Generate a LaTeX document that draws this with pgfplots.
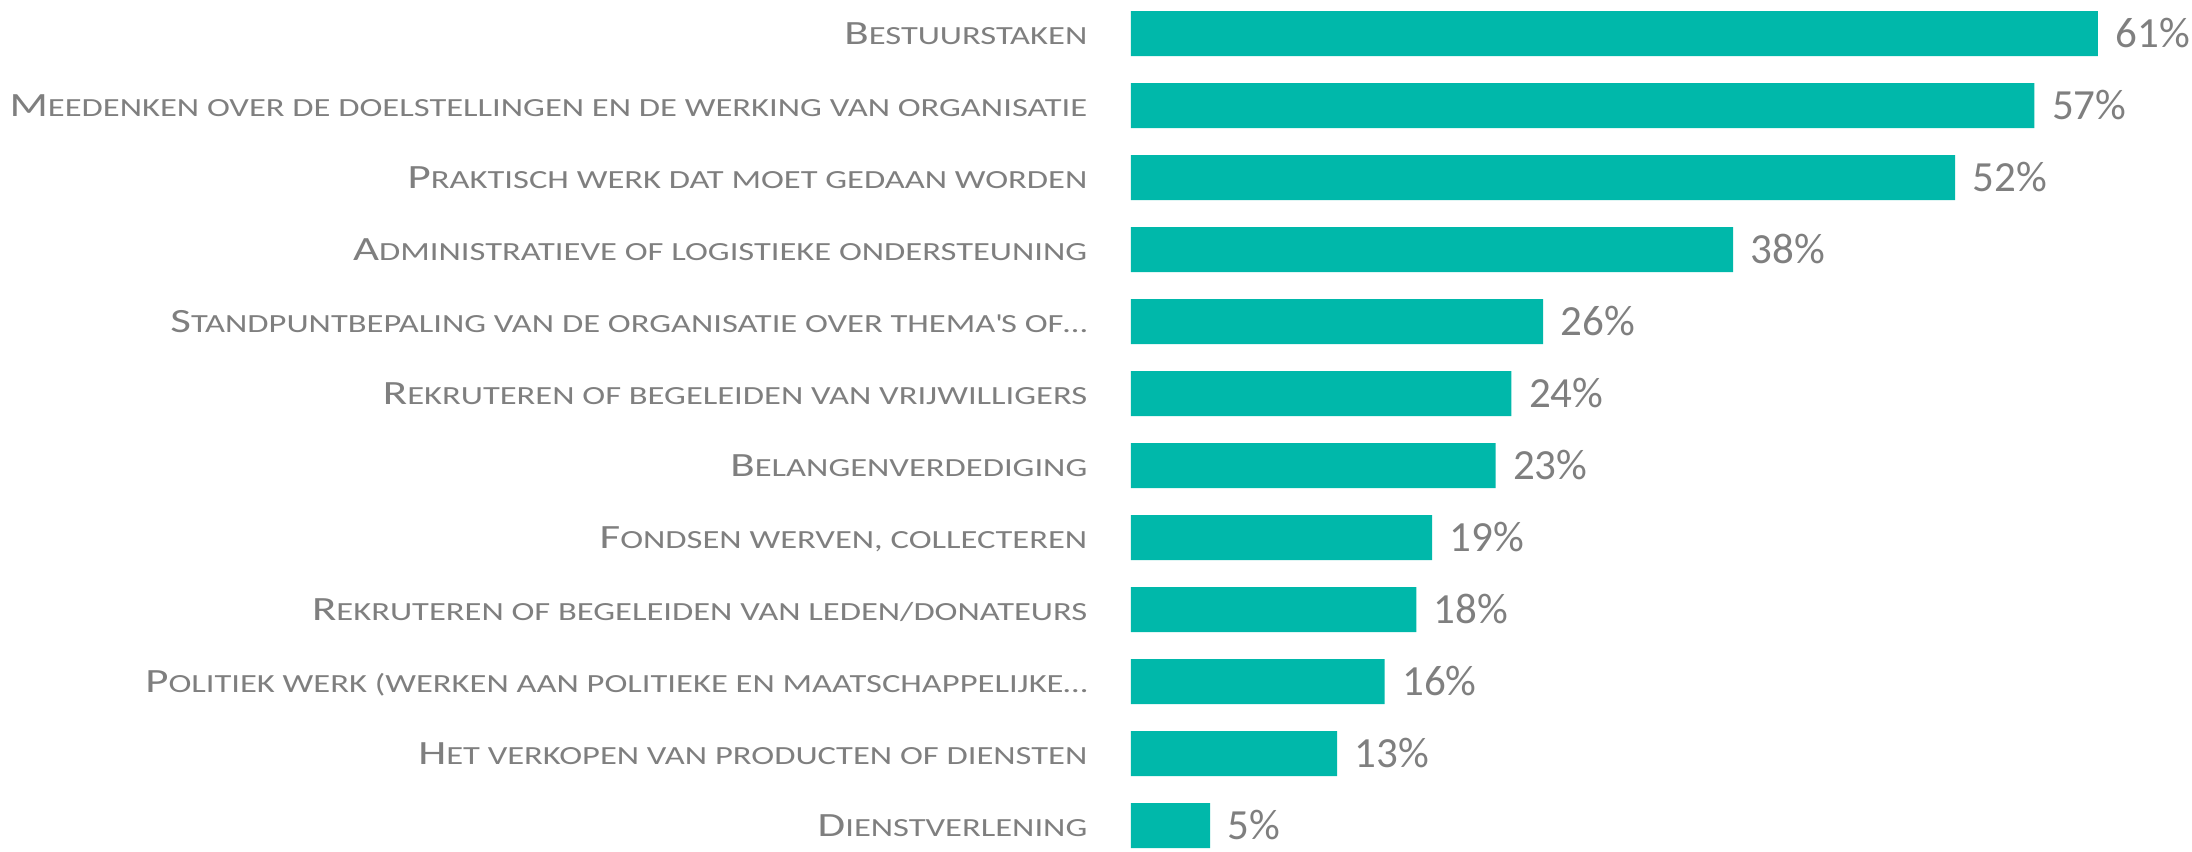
\documentclass[border=0pt]{standalone}
\usepackage{fontspec}
\setmainfont{Carlito}
\newfontfamily\labfont[FakeStretch=1.32]{Carlito}
\usepackage{pgfplots}
\pgfplotsset{compat=1.18}
\definecolor{barc}{RGB}{0,184,170}
\definecolor{txt}{RGB}{127,127,127}
\newcommand{\fsc}[2]{\labfont{\fontsize{10.2pt}{12pt}\selectfont #1}{\fontsize{7.85pt}{10pt}\selectfont\MakeUppercase{#2}}}
\begin{document}
\begin{tikzpicture}
\begin{axis}[
  name=ax,
  at={(0,0)}, anchor=south west,
  scale only axis,
  width=313.8pt, height=259.2pt,
  xbar, bar width=13.5pt,
  xmin=0, xmax=66,
  ymin=-0.5, ymax=11.5, y dir=reverse,
  axis line style={draw=none},
  xtick=\empty,
  ytick={0,...,11},
  major tick length=0pt,
  /pgf/number format/assume math mode=true,
  yticklabels={
    {\fsc{B}{estuurstaken}},
    {\fsc{M}{eedenken over de doelstellingen en de werking van organisatie}},
    {\fsc{P}{raktisch werk dat moet gedaan worden}},
    {\fsc{A}{dministratieve of logistieke ondersteuning}},
    {\fsc{S}{tandpuntbepaling van de organisatie over thema\textquotesingle s of…}},
    {\fsc{R}{ekruteren of begeleiden van vrijwilligers}},
    {\fsc{B}{elangenverdediging}},
    {\fsc{F}{ondsen werven, collecteren}},
    {\fsc{R}{ekruteren of begeleiden van leden/donateurs}},
    {\fsc{P}{olitiek werk (werken aan politieke en maatschappelijke…}},
    {\fsc{H}{et verkopen van producten of diensten}},
    {\fsc{D}{ienstverlening}}
  },
  yticklabel style={anchor=base east, inner sep=0pt, xshift=-12.9pt, yshift=-3.3pt, text=txt},
  point meta=x,
  nodes near coords={\pgfmathprintnumber{\pgfplotspointmeta}\%},
  nodes near coords style={anchor=base west, inner sep=0pt, xshift=5.1pt, yshift=-4.1pt, text=txt, font=\fontsize{12.9pt}{15pt}\selectfont},
  clip=false,
]
\addplot[fill=barc, draw=none] coordinates {
  (61,0) (57,1) (52,2) (38,3) (26,4) (24,5) (23,6) (19,7) (18,8) (16,9) (13,10) (5,11)
};
\end{axis}
\pgfresetboundingbox
\useasboundingbox ([xshift=-339.3pt,yshift=3.15pt]ax.south west) rectangle ([xshift=318.3pt,yshift=258.45pt]ax.south west);
\end{tikzpicture}
\end{document}
